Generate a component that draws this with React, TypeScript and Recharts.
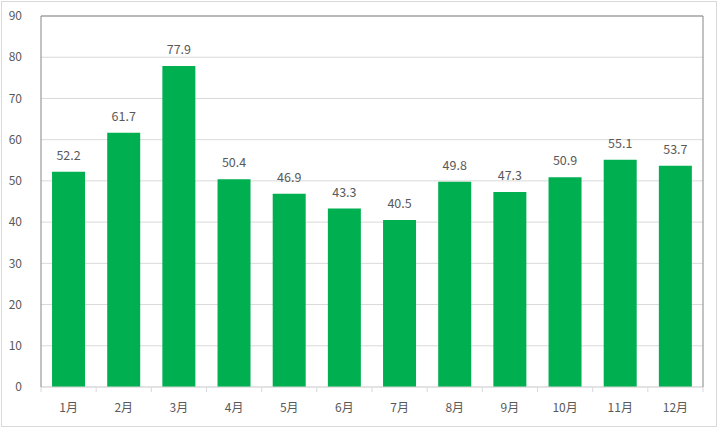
import React from 'react';
import { BarChart, Bar, XAxis, YAxis, CartesianGrid, LabelList, ReferenceLine } from 'recharts';

const months = ['1月', '2月', '3月', '4月', '5月', '6月', '7月', '8月', '9月', '10月', '11月', '12月'];
const values = [52.2, 61.7, 77.9, 50.4, 46.9, 43.3, 40.5, 49.8, 47.3, 50.9, 55.1, 53.7];
const yTicks = [0, 10, 20, 30, 40, 50, 60, 70, 80, 90];

const data = months.map((m, i) => ({ month: m, value: values[i] }));

const W = 722;
const H = 433;
const M = { top: 16, right: 18, bottom: 0, left: 0 };
const Y_W = 41;
const YR_W = 1;
const X_H = 46;
const halfBand = (W - M.left - M.right - Y_W - YR_W) / months.length / 2;
const FONT = '"Noto Sans CJK JP", "Noto Sans", sans-serif';
const TEXT = '#595959';
const BORDER = '#868686';

const XTick = (props: any) => {
  const { x, y, payload, index } = props;
  const last = index === months.length - 1;
  return (
    <g>
      <line x1={x - halfBand} x2={x - halfBand} y1={y - 13} y2={y - 8} stroke="#d9d9d9" />
      {last && <line x1={x + halfBand} x2={x + halfBand} y1={y - 13} y2={y - 8} stroke="#d9d9d9" />}
      <text x={x} y={y + 12} textAnchor="middle" fill={TEXT} fontSize={12} fontFamily={FONT}>
        {payload.value}
      </text>
    </g>
  );
};

export default function App() {
  return (
    <div style={{ position: 'absolute', left: 0, top: 0, width: W, height: H, background: '#fff' }}>
      <div style={{ position: 'absolute', left: 1, top: 1, width: 716, height: 426, border: '1px solid #d9d9d9', boxSizing: 'border-box' }} />
      <div style={{ position: 'absolute', left: 0, top: 0 }}>
        <BarChart width={W} height={H} data={data} margin={M} barCategoryGap="20%">
          <CartesianGrid vertical={false} stroke="#d9d9d9" />
          <XAxis
            dataKey="month"
            height={X_H}
            axisLine={{ stroke: '#d9d9d9' }}
            tickLine={false}
            tickSize={6}
            tickMargin={7}
            interval={0}
            tick={<XTick />}
          />
          <YAxis
            domain={[0, 90]}
            ticks={yTicks}
            width={Y_W}
            axisLine={{ stroke: BORDER }}
            tickLine={false}
            tickSize={6}
            tickMargin={13}
            tick={{ fill: TEXT, fontSize: 12, fontFamily: FONT }}
          />
          <YAxis
            yAxisId="r"
            orientation="right"
            width={YR_W}
            domain={[0, 90]}
            ticks={yTicks}
            tick={false}
            tickLine={false}
            axisLine={{ stroke: BORDER }}
          />
          <ReferenceLine y={90} stroke={BORDER} />
          <Bar dataKey="value" fill="#00B050" isAnimationActive={false}>
            <LabelList dataKey="value" position="top" offset={12} fill={TEXT} fontSize={12.5} fontFamily={FONT} />
          </Bar>
        </BarChart>
      </div>
    </div>
  );
}
